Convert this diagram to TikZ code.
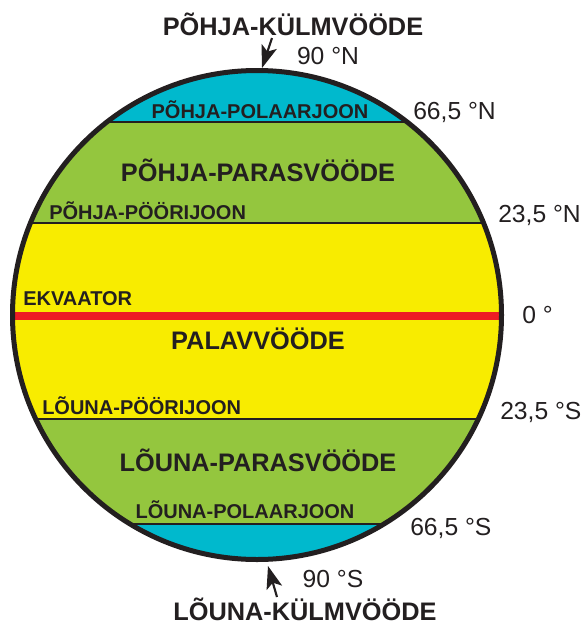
\documentclass[tikz,border=0pt]{standalone}
\usepackage{fontspec}
\setmainfont{Liberation Sans}
\usetikzlibrary{arrows.meta}
\definecolor{polar}{RGB}{0,185,205}
\definecolor{temperate}{RGB}{148,198,62}
\definecolor{torrid}{RGB}{248,236,0}
\definecolor{equator}{RGB}{237,28,36}
\definecolor{outline}{RGB}{35,31,32}
\begin{document}
\begin{tikzpicture}[x=0.75pt,y=-0.75pt,
		every node/.style={inner sep=0pt,text=outline},
		zone/.style={anchor=base,font=\bfseries\fontsize{19}{19}\selectfont},
		circle line/.style={anchor=base west,font=\bfseries\fontsize{15}{15}\selectfont},
		lat/.style={anchor=base west,font=\fontsize{18.5}{18.5}\selectfont},
		pole arrow/.style={-{Stealth[length=17pt,width=12pt,inset=4pt]},line width=1.6pt,outline}]
		\useasboundingbox (0,0) rectangle (586,625);
		\coordinate (c) at (257,315);
		\begin{scope}
			\clip (c) circle (244.5);
			\fill[polar] (0,0) rectangle (586,625);
			\fill[temperate] (0,122) rectangle (586,524);
			\fill[torrid] (0,223) rectangle (586,419);
			\fill[equator] (0,312) rectangle (586,320);
			\draw[outline,line width=1.1pt] (0,122) -- (586,122) (0,223) -- (586,223)
				(0,419) -- (586,419) (0,524) -- (586,524);
		\end{scope}
		\draw[outline,line width=3.75pt] (c) circle (244.5);
		\node[zone] (nkz) at (293,35) {PÕHJA-KÜLMVÖÖDE};
		\node[zone] (npz) at (258,181) {PÕHJA-PARASVÖÖDE};
		\node[zone] (pal) at (258,349) {PALAVVÖÖDE};
		\node[zone] (spz) at (258,471) {LÕUNA-PARASVÖÖDE};
		\node[zone] (skz) at (305,620) {LÕUNA-KÜLMVÖÖDE};
		\node[circle line,anchor=base] (npl) at (260,118) {PÕHJA-POLAARJOON};
		\node[circle line] (ntr) at (49,219) {PÕHJA-PÖÖRIJOON};
		\node[circle line] (ekv) at (23,305) {EKVAATOR};
		\node[circle line] (str) at (42,414) {LÕUNA-PÖÖRIJOON};
		\node[circle line,anchor=base] (spl) at (245,518) {LÕUNA-POLAARJOON};
		\node[lat,anchor=base] (n90) at (328,64) {90 °N};
		\node[lat] (n66) at (413,119) {66,5 °N};
		\node[lat] (n23) at (498,222) {23,5 °N};
		\node[lat] (eq0) at (522,323) {0 °};
		\node[lat] (s23) at (500,419) {23,5 °S};
		\node[lat] (s66) at (410,535) {66,5 °S};
		\node[lat,anchor=base] (s90) at (333,587) {90 °S};
		\coordinate (ntail) at (272,38);
		\coordinate (npole) at (262,68);
		\coordinate (stail) at (277,597);
		\coordinate (spole) at (268,566);
		\draw[pole arrow] (ntail) -- (npole);
		\draw[pole arrow] (stail) -- (spole);
	\end{tikzpicture}
\end{document}
